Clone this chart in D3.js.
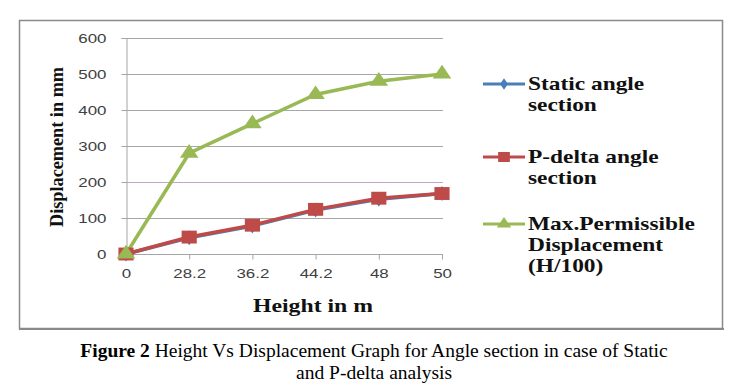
<!DOCTYPE html>
<html lang="en">
<head>
  <title>Height Vs Displacement</title>
  <script src="https://d3js.org/d3.v7.min.js"></script>
  <style>
    body { margin: 0; background: #fff; }
    svg { display: block; }
  </style>
</head>
<body>
  <script>
    // Chart data
    const heights = ["0", "28.2", "36.2", "44.2", "48", "50"];
    const staticAngle = [0, 45, 78, 122, 152, 168];
    const pDeltaAngle = [0, 47, 80, 124, 155, 168];
    const maxPermissible = [0, 280, 362, 443, 480, 500];
    const yTicks = [0, 100, 200, 300, 400, 500, 600];

    const seriesNames = [
      ["Static angle", "section"],
      ["P-delta angle", "section"],
      ["Max.Permissible", "Displacement", "(H/100)"]
    ];

    var W = 743, H = 385;
    var SX = 1.25; // the picture is stretched sideways, so text is too
    var serif = "Liberation Serif, Times New Roman, serif";
    var sans = "Liberation Sans, Arial, sans-serif";

    var svg = d3.select("body").append("svg")
      .attr("width", W)
      .attr("height", H);

    // outer chart frame
    svg.append("rect")
      .attr("x", 19.5).attr("y", 20.5)
      .attr("width", 703).attr("height", 308)
      .attr("fill", "#fff")
      .attr("stroke", "#8a8a8a")
      .attr("stroke-width", 1.5);
    svg.append("line")
      .attr("x1", 19).attr("x2", 724)
      .attr("y1", 329).attr("y2", 329)
      .attr("stroke", "#8a8a8a").attr("stroke-width", 2);

    // scales
    var x = d3.scalePoint().domain(heights).range([126, 442]);
    var y = d3.scaleLinear().domain([0, 600]).range([254, 38]);

    // gridlines
    svg.append("g")
      .selectAll("line")
      .data(yTicks.slice(1))
      .join("line")
      .attr("x1", 126).attr("x2", 443)
      .attr("y1", d => y(d) + 0.5).attr("y2", d => y(d) + 0.5)
      .attr("stroke", d => d === 200 ? "#c6a2c6" : "#a6a6a6")
      .attr("stroke-width", 1);

    // y axis
    var yAxis = svg.append("g")
      .attr("transform", "translate(126.5,0)")
      .call(d3.axisLeft(y).tickValues(yTicks).tickSize(5).tickPadding(14));
    yAxis.select(".domain").attr("stroke", "#a6a6a6");
    yAxis.selectAll(".tick line").attr("stroke", "#a6a6a6");
    yAxis.selectAll("text")
      .attr("x", -20 / SX)
      .attr("transform", "scale(" + SX + ",1)")
      .attr("font-family", sans)
      .attr("font-size", 13.5)
      .attr("fill", "#404040");

    // x axis
    var xAxis = svg.append("g")
      .attr("transform", "translate(0," + (y(0) + 0.5) + ")")
      .call(d3.axisBottom(x).tickSizeOuter(0).tickSize(5).tickPadding(9));
    xAxis.select(".domain").attr("stroke", "#a6a6a6").attr("d", "M126,0H443");
    xAxis.selectAll(".tick line").attr("stroke", "#a6a6a6");
    xAxis.selectAll("text")
      .attr("transform", "scale(" + SX + ",1)")
      .attr("font-family", sans)
      .attr("font-size", 13.5)
      .attr("fill", "#404040");

    var series = [
      { values: staticAngle, color: "#4a7ebb", shape: d3.symbolDiamond, size: 90 },
      { values: pDeltaAngle, color: "#be4b48", shape: d3.symbolSquare, size: 230 },
      { values: maxPermissible, color: "#98b954", shape: d3.symbolTriangle, size: 150 }
    ];

    var line = d3.line()
      .x((d, i) => x(heights[i]))
      .y(d => y(d));

    series.forEach(function(s) {
      svg.append("path")
        .datum(s.values)
        .attr("d", line)
        .attr("fill", "none")
        .attr("stroke", s.color)
        .attr("stroke-width", 3.5);
    });
    series.forEach(function(s) {
      svg.append("g")
        .selectAll("path")
        .data(s.values)
        .join("path")
        .attr("transform", (d, i) => "translate(" + x(heights[i]) + "," + y(d) + ") scale(1,0.85)")
        .attr("d", d3.symbol().type(s.shape).size(s.size))
        .attr("fill", s.color);
    });

    // legend
    var legendY = [84, 157, 224];
    series.forEach(function(s, k) {
      var g = svg.append("g").attr("transform", "translate(483," + legendY[k] + ")");
      g.append("line")
        .attr("x1", 0).attr("x2", 42)
        .attr("stroke", s.color).attr("stroke-width", 3);
      g.append("path")
        .attr("transform", "translate(21,0) scale(1,0.85)")
        .attr("d", d3.symbol().type(s.shape).size(s.size * 0.6))
        .attr("fill", s.color);
      g.append("text")
        .attr("transform", "translate(45,6) scale(1.3,1)")
        .attr("font-family", serif)
        .attr("font-weight", "bold")
        .attr("font-size", 18)
        .attr("fill", "#111")
        .selectAll("tspan")
        .data(seriesNames[k])
        .join("tspan")
        .attr("x", 0)
        .attr("dy", (d, i) => i === 0 ? 0 : 21)
        .text(d => d);
    });

    // axis titles
    svg.append("text")
      .attr("transform", "translate(313,312) scale(1.32,1)")
      .attr("text-anchor", "middle")
      .attr("font-family", serif)
      .attr("font-weight", "bold")
      .attr("font-size", 18)
      .attr("fill", "#111")
      .text("Height in m");

    svg.append("text")
      .attr("transform", "translate(63,147) rotate(-90)")
      .attr("text-anchor", "middle")
      .attr("font-family", serif)
      .attr("font-weight", "bold")
      .attr("font-size", 18)
      .attr("textLength", 160)
      .attr("lengthAdjust", "spacingAndGlyphs")
      .attr("fill", "#111")
      .text("Displacement in mm");

    // caption
    var cap = svg.append("text")
      .attr("x", 374).attr("y", 357)
      .attr("text-anchor", "middle")
      .attr("font-family", serif)
      .attr("font-size", 19.5)
      .attr("fill", "#000");
    cap.append("tspan").attr("font-weight", "bold").text("Figure 2");
    cap.append("tspan").text(" Height Vs Displacement Graph for Angle section in case of Static");
    svg.append("text")
      .attr("x", 374).attr("y", 379)
      .attr("text-anchor", "middle")
      .attr("font-family", serif)
      .attr("font-size", 19.5)
      .attr("fill", "#000")
      .text("and P-delta analysis");
  </script>
</body>
</html>
